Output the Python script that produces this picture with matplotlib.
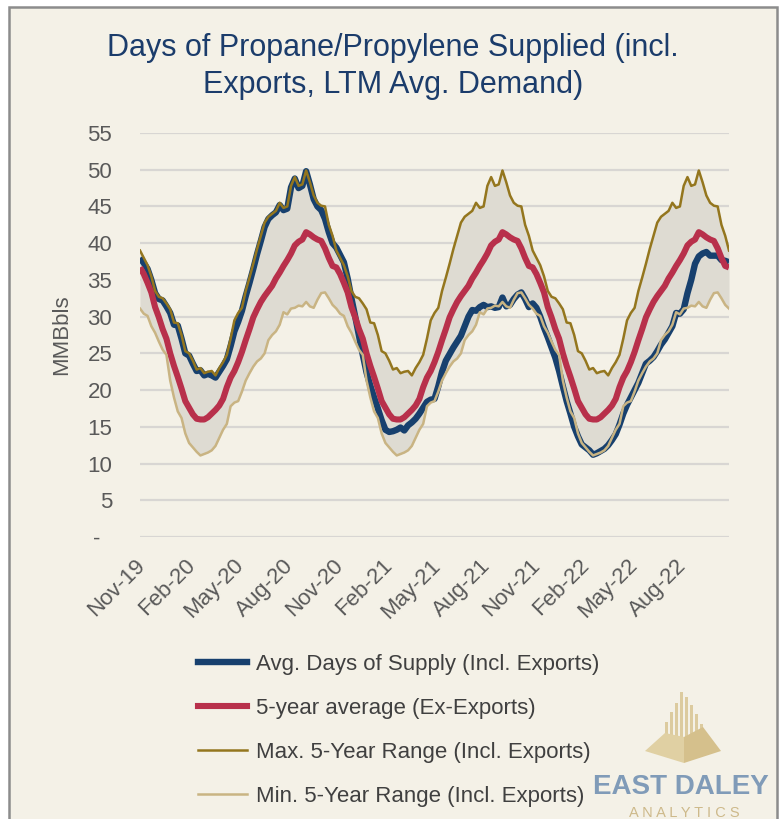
import numpy as np
import pandas as pd
import matplotlib
matplotlib.use("Agg")
import matplotlib.pyplot as plt
from matplotlib.patches import Rectangle, Polygon
from matplotlib.lines import Line2D
from matplotlib.transforms import ScaledTranslation

plt.rcParams['font.family'] = ['Liberation Sans', 'DejaVu Sans']

#%% data (weekly, first week ending 2019-10-25)
# 5-year stats by week of the season (52 weeks, late Oct -> late Oct)
max_5yr = [39.0, 38.0, 37.0, 35.5, 33.5, 32.7, 32.5, 31.8, 31.0, 29.2,
           29.1, 27.5, 25.3, 25.0, 24.0, 22.8, 23.0, 22.3, 22.5, 22.6,
           22.0, 23.0, 23.8, 24.8, 27.0, 29.5, 30.5, 31.2, 33.5, 35.3,
           37.2, 39.2, 41.0, 42.8, 43.6, 44.0, 44.4, 45.5, 44.8, 45.0,
           47.8, 49.0, 47.8, 48.0, 49.9, 48.3, 46.5, 45.5, 45.1, 45.0,
           42.5, 41.0]
min_5yr = [31.1, 30.4, 30.1, 28.7, 27.8, 26.6, 25.5, 24.8, 21.3, 19.0,
           17.1, 16.2, 14.1, 12.8, 12.2, 11.6, 11.1, 11.3, 11.5, 11.8,
           12.4, 13.5, 14.6, 15.4, 17.8, 18.3, 18.5, 19.8, 21.3, 22.3,
           23.2, 23.9, 24.3, 25.0, 26.8, 27.5, 28.0, 28.9, 30.6, 30.3,
           31.1, 31.2, 31.5, 31.4, 32.0, 31.4, 31.2, 32.3, 33.2, 33.3,
           32.5, 31.6]
avg_5yr = [36.7, 35.8, 34.6, 33.3, 31.3, 29.9, 28.3, 27.0, 25.0, 23.3,
           21.8, 20.2, 18.5, 17.6, 16.7, 16.1, 16.0, 16.0, 16.3, 16.8,
           17.3, 17.9, 18.8, 20.4, 21.7, 22.6, 23.8, 25.2, 26.8, 28.3,
           29.9, 31.0, 32.0, 32.8, 33.5, 34.2, 35.2, 36.0, 36.9, 37.7,
           38.6, 39.7, 40.2, 40.5, 41.5, 41.2, 40.8, 40.5, 40.3, 39.3,
           38.0, 36.9]

# Avg. days of supply incl. exports
days_supply = [
    # 2019-20
    38.0, 37.3, 36.5, 35.0, 33.2, 32.4, 32.2, 31.4, 30.5, 28.9,
    28.8, 27.0, 25.0, 24.7, 23.6, 22.6, 22.7, 22.0, 22.2, 22.0,
    21.7, 22.5, 23.3, 24.2, 26.0, 28.0, 29.3, 30.8, 32.8, 34.6,
    36.5, 38.5, 40.3, 42.2, 43.3, 43.8, 44.2, 45.2, 44.5, 44.7,
    47.6, 48.8, 47.5, 47.8, 49.8, 48.0, 46.0, 45.0, 44.5, 43.3,
    41.5, 40.0,
    # 2020-21
    39.4, 38.4, 37.4, 35.2, 32.5, 30.0, 27.4, 24.8, 22.4, 20.6,
    19.0, 17.5, 15.9, 14.6, 14.3, 14.4, 14.6, 14.9, 14.5, 15.2,
    15.6, 16.1, 16.8, 17.6, 18.4, 18.7, 18.8, 20.5, 22.5, 24.0,
    24.9, 25.8, 26.6, 27.4, 28.7, 30.0, 30.9, 30.8, 31.3, 31.6,
    31.3, 31.4, 31.2, 31.3, 32.6, 31.4, 31.6, 32.4, 33.0, 33.3,
    32.4, 31.3,
    # 2021-22
    31.8, 31.2, 30.0, 28.5, 27.2, 25.8, 24.4, 22.6, 20.5, 18.5,
    16.8, 15.0, 13.7, 12.6, 12.2, 11.8, 11.2, 11.4, 11.7, 12.0,
    12.5, 13.2, 14.0, 15.3, 16.8, 18.0, 19.0, 20.0, 21.0, 22.3,
    23.6, 24.0, 24.5, 25.3, 26.2, 26.9, 27.8, 28.7, 30.5, 30.4,
    31.0, 33.2, 35.0, 37.2, 38.2, 38.6, 38.8, 38.3, 38.3, 38.3,
    37.7, 37.6, 37.4,
]

tick_months = pd.date_range("2019-11-01", "2022-08-01", freq="3MS")

dates = pd.date_range("2019-10-25", periods=len(days_supply), freq="7D")
n = len(dates)
max_line = np.tile(max_5yr, 4)[:n]
min_line = np.tile(min_5yr, 4)[:n]
avg_line = np.tile(avg_5yr, 4)[:n]

navy = '#17406e'
crimson = '#b8304b'
gold = '#94761e'
tan = '#c9b483'
txt = '#595959'

W, H = 781, 819
fig = plt.figure(figsize=(W / 100, H / 100), dpi=100, facecolor='white')

# background panel + logo, drawn in pixel coords
bg = fig.add_axes([0, 0, 1, 1], zorder=0)
bg.set_xlim(0, W)
bg.set_ylim(H, 0)
bg.axis('off')
bg.add_patch(Rectangle((9, 7), 768, 840, facecolor='#f4f1e7', edgecolor='#8c8c8c', lw=1.8))

# logo (rough)
bar_x = [666, 671, 676, 681, 686, 691, 696, 701]
bar_top = [722, 712, 703, 692, 697, 705, 714, 724]
for bx, bt in zip(bar_x, bar_top):
    bg.add_patch(Rectangle((bx - 1.5, bt), 3, 737 - bt, facecolor='#dccb9f', lw=0))
bg.add_patch(Polygon([(645, 751), (665, 733), (684, 737), (684, 763)], facecolor='#e0d0a3', lw=0))
bg.add_patch(Polygon([(684, 737), (703, 727), (721, 751), (684, 763)], facecolor='#d5c08c', lw=0))
bg.text(681, 787, 'EAST DALEY', ha='center', va='center', fontsize=20, color='#809bb8',
        fontweight='bold')
bg.text(684, 806, 'A N A L Y T I C S', ha='center', va='top', fontsize=10.5, color='#cdb98a')

# title
title_font = ['Liberation Sans Narrow', 'Liberation Sans', 'DejaVu Sans']
bg.text(393, 48, 'Days of Propane/Propylene Supplied (incl.', ha='center', va='center',
        fontsize=22, color='#1b3c6b', family=title_font)
bg.text(393, 85, 'Exports, LTM Avg. Demand)', ha='center', va='center',
        fontsize=22, color='#1b3c6b', family=title_font)
bg.text(62, 335, 'MMBbls', rotation=90, ha='center', va='center', fontsize=16, color=txt)

#%% main chart
ax = fig.add_axes([140 / W, 1 - 537 / H, 589 / W, 404 / H], zorder=1)
ax.set_facecolor('none')

ax.fill_between(dates, min_line, max_line, color='#dedbd2', lw=0, zorder=1)
ax.plot(dates, days_supply, color=navy, lw=4.6, zorder=3, solid_capstyle='butt',
        label='Avg. Days of Supply (Incl. Exports)')
ax.plot(dates, avg_line, color=crimson, lw=4.4, zorder=4, solid_capstyle='butt',
        label='5-year average (Ex-Exports)')
ax.plot(dates, max_line, color=gold, lw=1.8, zorder=5, label='Max. 5-Year Range (Incl. Exports)')
ax.plot(dates, min_line, color=tan, lw=1.8, zorder=6, label='Min. 5-Year Range (Incl. Exports)')

ax.set_xlim(dates[0], dates[-1])
ax.set_ylim(0, 55)
ax.set_yticks(np.arange(0, 56, 5))
ax.set_yticklabels(['-  '] + [str(v) for v in range(5, 56, 5)])
ax.yaxis.grid(True, color='#d8d6d3', lw=1.6, zorder=0)
ax.set_axisbelow(True)
for s in ax.spines.values():
    s.set_visible(False)
ax.tick_params(axis='both', length=0, colors=txt, labelsize=16)
ax.tick_params(axis='y', pad=20)
ax.tick_params(axis='x', pad=13)

ax.set_xticks(tick_months)
ax.set_xticklabels([d.strftime('%b-%y') for d in tick_months], rotation=45,
                   ha='right', va='top', rotation_mode='anchor')
shift = ScaledTranslation(-9 / 100, 0, fig.dpi_scale_trans)
for lab in ax.get_xticklabels():
    lab.set_transform(lab.get_transform() + shift)

handles, labels = ax.get_legend_handles_labels()
leg_handles = [Line2D([], [], color=navy, lw=4.6), Line2D([], [], color=crimson, lw=4.4),
               Line2D([], [], color=gold, lw=1.8), Line2D([], [], color=tan, lw=1.8)]
fig.legend(leg_handles, labels, loc='upper left', bbox_to_anchor=(198 / W, 1 - 654 / H),
           frameon=False, fontsize=16, labelcolor='#404040', handlelength=2.2,
           handletextpad=0.4, labelspacing=1.03, borderaxespad=0, borderpad=0)

fig.savefig('out.png', dpi=100, facecolor='white')
